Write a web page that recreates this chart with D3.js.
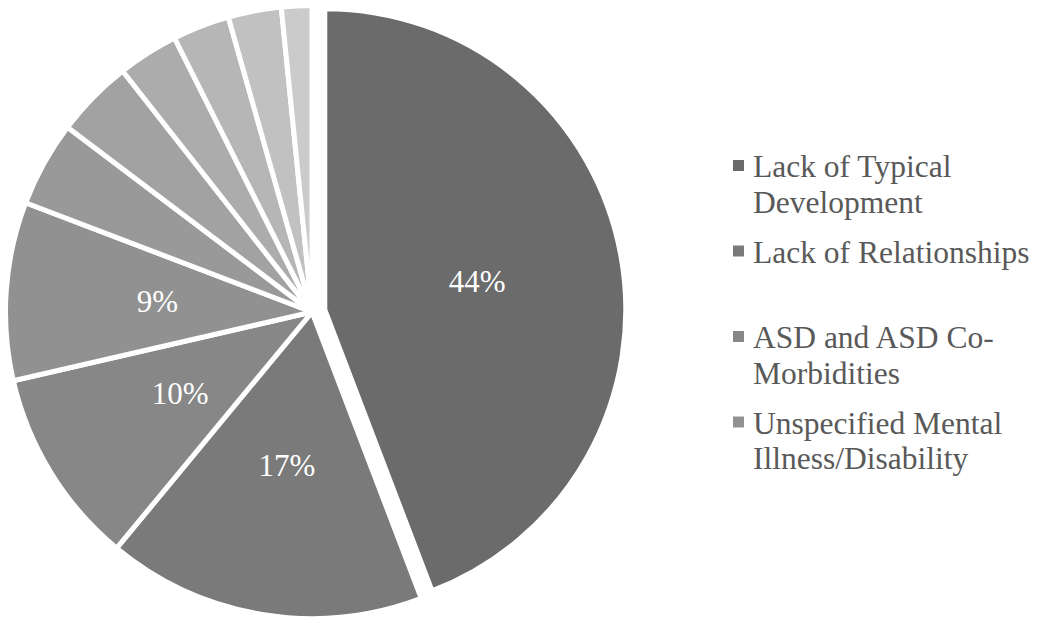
<!DOCTYPE html>
<html>
<head>
<meta charset="utf-8">
<script src="https://cdn.jsdelivr.net/npm/d3@7"></script>
<style>
  body { margin: 0; background: #fff; }
  svg { display: block; }
</style>
</head>
<body>
<div id="chart"></div>
<script>
// slice shares (percent), clockwise from 12 o'clock
const values = [44.2, 16.8, 10.4, 9.4, 4.5, 4.1, 3.2, 3.0, 2.8, 1.6];
const colors = ["#6b6b6b", "#7a7a7a", "#878787", "#919191", "#999999",
                "#a2a2a2", "#acacac", "#b6b6b6", "#c1c1c1", "#cbcbcb"];
// legend only shows the first four categories
const categories = [
  ["Lack of Typical", "Development"],
  ["Lack of Relationships"],
  ["ASD and ASD Co-", "Morbidities"],
  ["Unspecified Mental", "Illness/Disability"]
];
const labelMin = 9; // slices smaller than this get no label

const width = 1042, height = 618;
const cx = 312, cy = 312;
const radius = 306.5;
const explode = 13;

const svg = d3.select("#chart")
  .append("svg")
  .attr("width", width)
  .attr("height", height);

svg.append("rect").attr("width", width).attr("height", height).attr("fill", "#fff");

const total = d3.sum(values);
const pie = d3.pie().sort(null).value(d => d)(values);

const arc = d3.arc().innerRadius(0).outerRadius(radius);
const arcExploded = d3.arc().innerRadius(0).outerRadius(radius - 5.5);
const labelArc = d3.arc().innerRadius(155).outerRadius(155);

const g = svg.append("g").attr("transform", "translate(" + cx + "," + cy + ")");

function offset(d, i) {
  if (i !== 0) return [0, 0];
  const a = (d.startAngle + d.endAngle) / 2;
  return [explode * Math.sin(a), -explode * Math.cos(a)];
}

const slices = g.selectAll("g.slice")
  .data(pie)
  .enter()
  .append("g")
  .attr("class", "slice")
  .attr("transform", (d, i) => "translate(" + offset(d, i) + ")");

slices.append("path")
  .attr("d", (d, i) => i === 0 ? arcExploded(d) : arc(d))
  .attr("fill", (d, i) => colors[i])
  .attr("stroke", "#fff")
  .attr("stroke-width", 5)
  .attr("stroke-linejoin", "miter");

const fmt = d3.format(".0%");
slices.filter(d => d.value >= labelMin)
  .append("text")
  .attr("transform", d => "translate(" + labelArc.centroid(d) + ")")
  .attr("text-anchor", "middle")
  .attr("dy", "0.35em")
  .attr("fill", "#fff")
  .style("font-family", "'Liberation Serif', 'Times New Roman', serif")
  .style("font-size", "31px")
  .text(d => fmt(d.value / total));

// legend
const legend = svg.append("g").attr("transform", "translate(733,177)");
const rowStep = 85.5, lineStep = 35.5;

const items = legend.selectAll("g.item")
  .data(categories)
  .enter()
  .append("g")
  .attr("class", "item")
  .attr("transform", (d, i) => "translate(0," + i * rowStep + ")");

items.append("rect")
  .attr("x", 0)
  .attr("y", -17)
  .attr("width", 11)
  .attr("height", 11)
  .attr("fill", (d, i) => colors[i]);

items.append("text")
  .attr("x", 20)
  .attr("fill", "#595959")
  .style("font-family", "'Liberation Serif', 'Times New Roman', serif")
  .style("font-size", "31.5px")
  .selectAll("tspan")
  .data(d => d)
  .enter()
  .append("tspan")
  .attr("x", 20)
  .attr("y", (d, i) => i * lineStep)
  .text(d => d);
</script>
</body>
</html>
